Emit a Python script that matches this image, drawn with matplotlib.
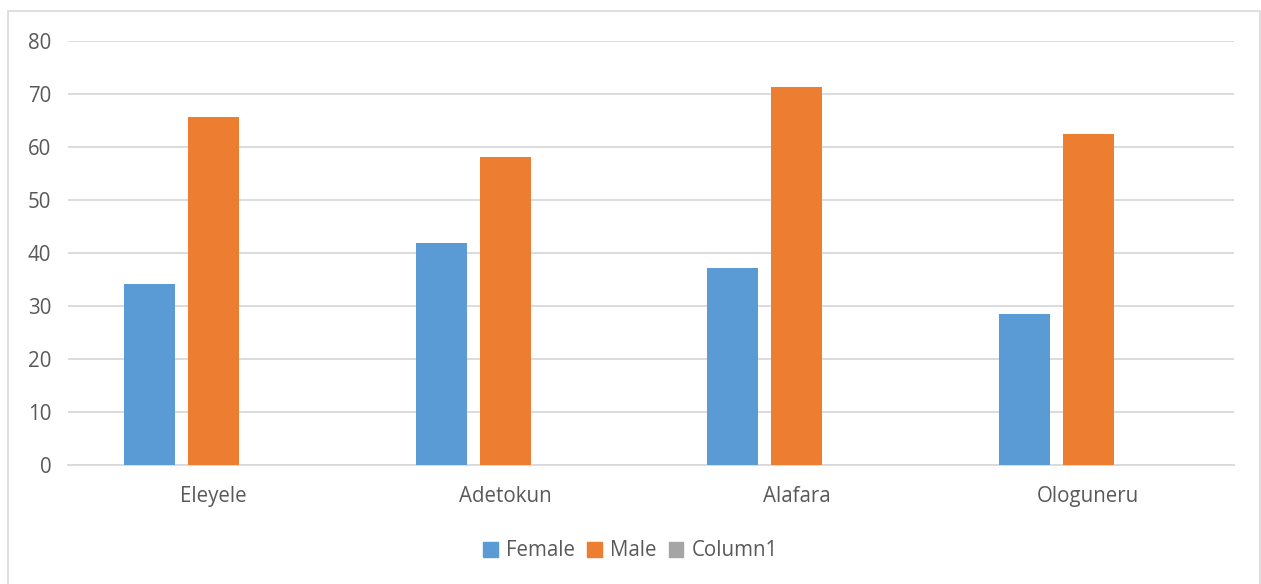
import matplotlib
matplotlib.use("Agg")
import matplotlib.pyplot as plt
from matplotlib.patches import Rectangle, Patch
import numpy as np

categories = ["Eleyele", "Adetokun", "Alafara", "Ologuneru"]
female = [34.2, 41.9, 37.1, 28.5]
male = [65.7, 58.1, 71.4, 62.5]
column1 = [0, 0, 0, 0]
yticks = [0, 10, 20, 30, 40, 50, 60, 70, 80]

c_female = "#5B9BD5"
c_male = "#ED7D31"
c_col1 = "#A5A5A5"
txt = "#595959"
grid = "#D9D9D9"

plt.rcParams['font.family'] = ['Open Sans', 'DejaVu Sans']
fs = 14.8

fig = plt.figure(figsize=(12.61, 5.84), dpi=100)
W, H = 1261, 584
# chart frame
fig.patches.append(Rectangle((8 / W, -0.05), (1260 - 8) / W, 1 - 11 / H + 0.05,
                             transform=fig.transFigure, fill=False,
                             edgecolor="#D9D9D9", linewidth=1.2))

left, right = 68 / W, 1234 / W
bottom, top = 1 - 465 / H, 1 - 41 / H
ax = fig.add_axes([left, bottom, right - left, top - bottom])

x = np.arange(len(categories))
bw = 0.175
step = 0.22
ax.bar(x - step, female, bw, color=c_female, label="Female", zorder=3)
ax.bar(x, male, bw, color=c_male, label="Male", zorder=3)
ax.bar(x + step, column1, bw, color=c_col1, label="Column1", zorder=3)

ax.set_xlim(-0.5, len(categories) - 0.5)
ax.set_ylim(0, 80)
ax.set_yticks(yticks)
ax.set_xticks(x)
ax.set_xticklabels(categories)
ax.yaxis.grid(True, color=grid, linewidth=1.3, zorder=0)
ax.set_axisbelow(True)
for s in ["top", "right", "left"]:
    ax.spines[s].set_visible(False)
ax.spines["bottom"].set_color(grid)
ax.spines["bottom"].set_linewidth(1.3)
ax.tick_params(axis="both", length=0, labelsize=fs, colors=txt)
ax.tick_params(axis="y", pad=12)
ax.tick_params(axis="x", pad=15)

handles = [Patch(color=c_female), Patch(color=c_male), Patch(color=c_col1)]
fig.legend(handles, ["Female", "Male", "Column1"], loc="center",
           bbox_to_anchor=(0.5, 1 - 551 / H), ncol=3, frameon=False,
           fontsize=fs, labelcolor=txt, handlelength=0.7, handleheight=0.7,
           handletextpad=0.4, columnspacing=0.6)

fig.savefig("out.png", dpi=100, facecolor="white")
